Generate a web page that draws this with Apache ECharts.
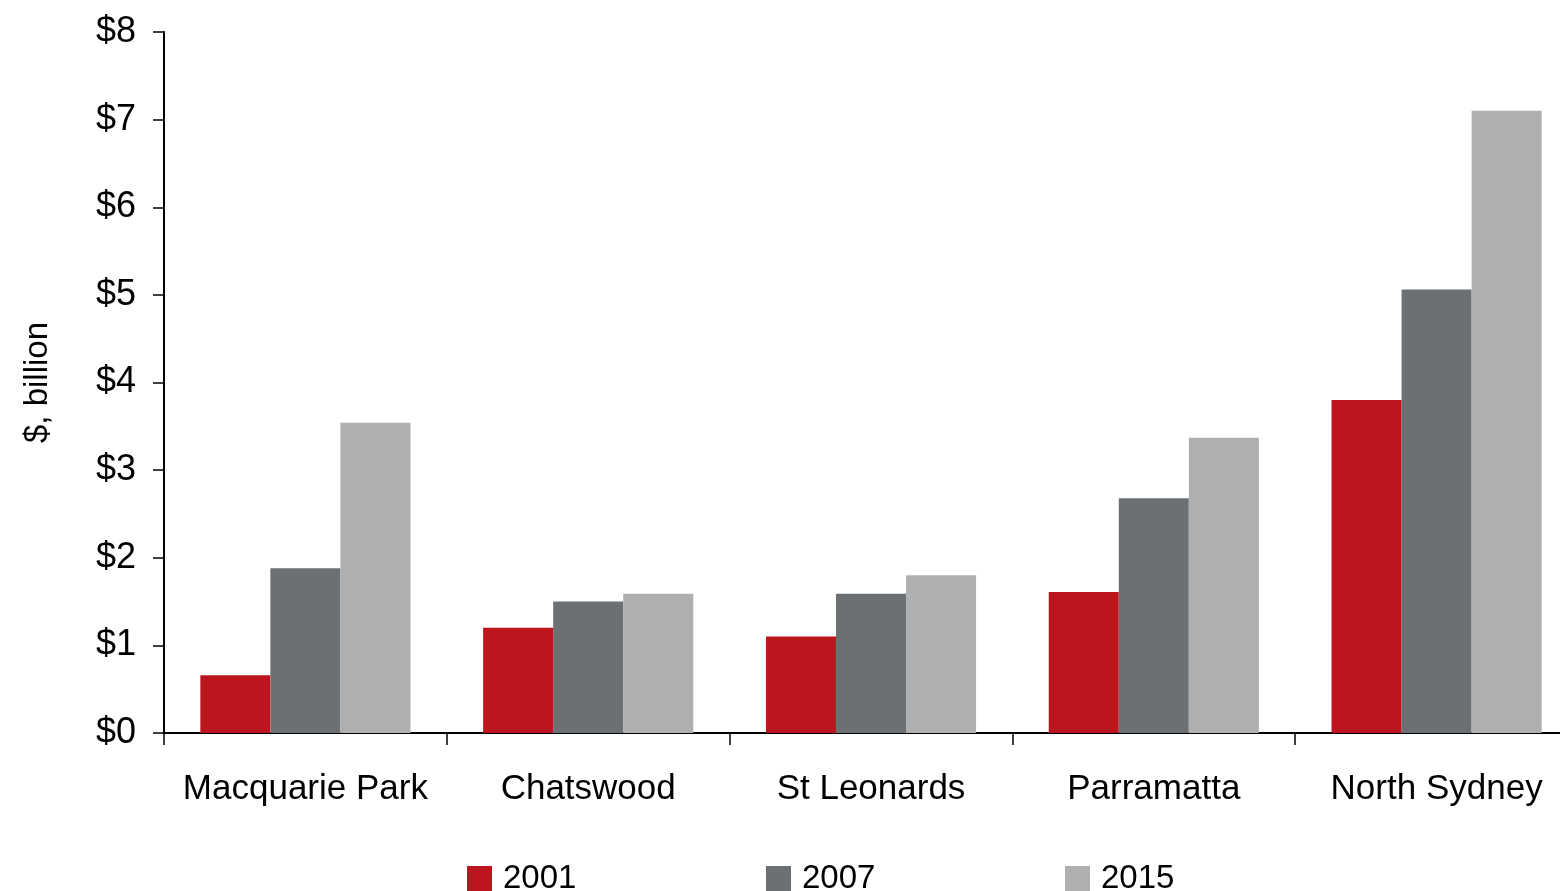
<!DOCTYPE html>
<html>
<head>
<meta charset="utf-8">
<script src="https://cdn.jsdelivr.net/npm/echarts@6/dist/echarts.min.js"></script>
<style>
  html, body { margin: 0; padding: 0; background: #ffffff; }
  #chart { width: 1560px; height: 891px; }
</style>
</head>
<body>
<div id="chart"></div>
<script>
// Office asset values by centre, $ billion
const centres = ['Macquarie Park', 'Chatswood', 'St Leonards', 'Parramatta', 'North Sydney'];
const years = ['2001', '2007', '2015'];
const values2001 = [0.66, 1.20, 1.10, 1.61, 3.80];
const values2007 = [1.88, 1.50, 1.59, 2.68, 5.06];
const values2015 = [3.54, 1.59, 1.80, 3.37, 7.10];
const yTicks = [0, 1, 2, 3, 4, 5, 6, 7, 8];

const colours = ['#BD151D', '#6D7073', '#AEAFB1'];
const FONT = '"Liberation Sans", Arial, sans-serif';

const chart = echarts.init(document.getElementById('chart'));

const seriesValues = [values2001, values2007, values2015];
const legendLefts = [467, 766, 1065];

chart.setOption({
  animation: false,
  backgroundColor: '#ffffff',
  textStyle: { fontFamily: FONT },
  grid: { left: 164, right: -18, top: 32, bottom: 158, containLabel: false, outerBoundsMode: 'none' },
  legend: years.map((y, i) => ({
    data: [y],
    left: legendLefts[i],
    top: 862,
    padding: 0,
    itemWidth: 25,
    itemHeight: 25,
    itemGap: 0,
    icon: 'rect',
    textStyle: { fontFamily: FONT, fontSize: 33, color: '#000', padding: [0, 0, 0, 6] }
  })),
  xAxis: {
    type: 'category',
    data: centres,
    axisLine: { lineStyle: { color: '#000', width: 2 } },
    axisTick: { show: true, length: 12, alignWithLabel: false, lineStyle: { color: '#000', width: 1.5 } },
    axisLabel: { color: '#000', fontFamily: FONT, fontSize: 35, margin: 39, interval: 0 },
    splitLine: { show: false }
  },
  yAxis: {
    type: 'value',
    min: yTicks[0],
    max: yTicks[yTicks.length - 1],
    interval: 1,
    name: '$, billion',
    nameLocation: 'middle',
    nameRotate: 90,
    nameGap: 110,
    nameTextStyle: { color: '#000', fontFamily: FONT, fontSize: 33 },
    axisLine: { show: true, lineStyle: { color: '#000', width: 2 } },
    axisTick: { show: true, length: 11, lineStyle: { color: '#000', width: 1.5 } },
    axisLabel: { color: '#000', fontFamily: FONT, fontSize: 36, margin: 28, formatter: v => '$' + v },
    splitLine: { show: false }
  },
  series: years.map((y, i) => ({
    name: y,
    type: 'bar',
    data: seriesValues[i],
    barGap: '0%',
    barCategoryGap: '25.7%',
    itemStyle: { color: colours[i] }
  }))
});
</script>
</body>
</html>
